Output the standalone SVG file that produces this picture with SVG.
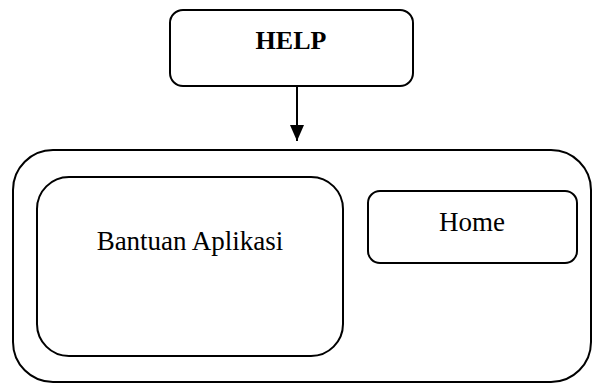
<svg xmlns="http://www.w3.org/2000/svg" width="594" height="383" viewBox="0 0 594 383">
<defs>
<style>
.box{fill:#fff;stroke:#000;stroke-width:2}
.t{font-family:"Liberation Serif","Times New Roman",serif;font-size:27px;fill:#000;text-anchor:middle}
.b{font-weight:bold;font-size:26px}
.c{stroke:#000;stroke-width:2;fill:none}
</style>
<marker id="ah" markerWidth="16" markerHeight="14" refX="16" refY="7" orient="auto" markerUnits="userSpaceOnUse" viewBox="0 0 16 14">
<path d="M0,0 L16,7 L0,14 Z" fill="#000"/>
</marker>
</defs>
<rect width="594" height="383" fill="#fff"/>
<g id="help">
<rect class="box" x="170" y="10" width="243" height="76" rx="13"/>
<text class="t b" x="291" y="49">HELP</text>
</g>
<g id="container">
<rect class="box" x="13" y="150" width="578" height="232" rx="40"/>
</g>
<g id="bantuan">
<rect class="box" x="37" y="177" width="306" height="179" rx="32"/>
<text class="t" x="190" y="250">Bantuan Aplikasi</text>
</g>
<g id="home">
<rect class="box" x="368" y="191" width="209" height="72" rx="12"/>
<text class="t" x="472" y="231">Home</text>
</g>
<g id="connectors">
<line class="c" x1="297" y1="86" x2="297" y2="141" marker-end="url(#ah)"/>
</g>
</svg>
